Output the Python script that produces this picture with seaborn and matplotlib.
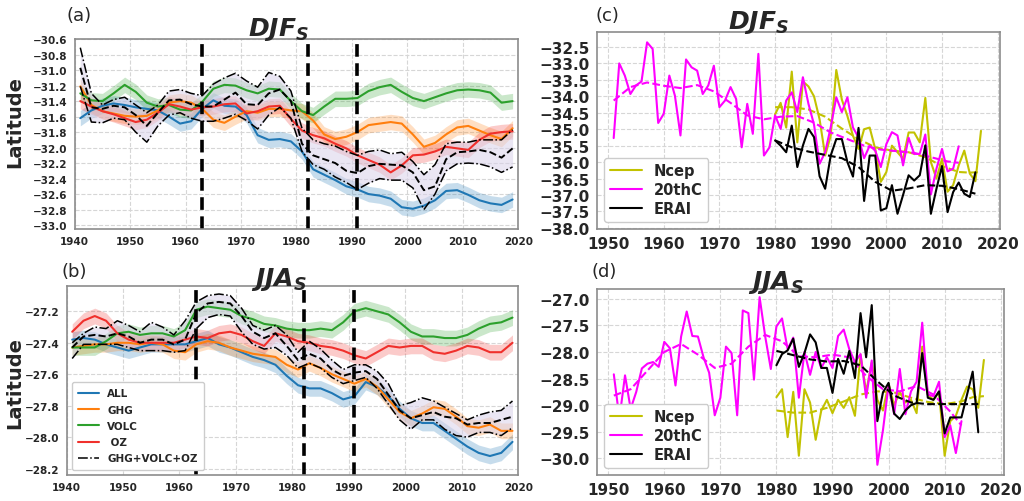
import numpy as np
import matplotlib
matplotlib.use("Agg")
import matplotlib.pyplot as plt
import seaborn as sns

sns.set_style("whitegrid", {"grid.linestyle": "--", "grid.color": "#d6d6d6",
                            "axes.edgecolor": "#8c8c8c"})
plt.rcParams['font.family'] = ['DejaVu Sans']
plt.rcParams['mathtext.fontset'] = 'custom'
plt.rcParams['mathtext.it'] = 'DejaVu Sans:italic:bold'
plt.rcParams['mathtext.rm'] = 'DejaVu Sans:bold'

# ---------------- model experiments (panels a, b) ----------------
years_ab = np.arange(1941, 2020, 2)

# DJF (a)
a_all = [-31.62, -31.52, -31.46, -31.43, -31.45, -31.48, -31.50, -31.52, -31.60, -31.69,
         -31.66, -31.50, -31.39, -31.46, -31.47, -31.58, -31.84, -31.90, -31.89, -31.92,
         -32.05, -32.28, -32.35, -32.42, -32.50, -32.54, -32.60, -32.62, -32.66, -32.77,
         -32.79, -32.75, -32.68, -32.56, -32.55, -32.61, -32.68, -32.72, -32.74, -32.67]
a_ghg = [-31.21, -31.45, -31.53, -31.56, -31.59, -31.60, -31.59, -31.52, -31.42, -31.40,
         -31.42, -31.50, -31.64, -31.68, -31.60, -31.53, -31.55, -31.50, -31.50, -31.52,
         -31.53, -31.65, -31.83, -31.89, -31.86, -31.80, -31.71, -31.69, -31.67, -31.69,
         -31.83, -31.99, -31.94, -31.83, -31.74, -31.72, -31.78, -31.84, -31.89, -31.75]
a_volc = [-31.30, -31.39, -31.40, -31.30, -31.19, -31.28, -31.42, -31.47, -31.45, -31.51,
          -31.52, -31.41, -31.24, -31.19, -31.20, -31.26, -31.30, -31.24, -31.25, -31.40,
          -31.53, -31.58, -31.47, -31.37, -31.37, -31.36, -31.27, -31.22, -31.19, -31.28,
          -31.36, -31.40, -31.35, -31.30, -31.26, -31.25, -31.26, -31.29, -31.42, -31.40]
a_oz = [-31.40, -31.47, -31.53, -31.57, -31.62, -31.67, -31.64, -31.55, -31.44, -31.47,
        -31.51, -31.48, -31.47, -31.44, -31.43, -31.56, -31.53, -31.47, -31.46, -31.63,
        -31.78, -31.84, -31.88, -31.95, -32.01, -32.10, -32.16, -32.22, -32.32, -32.23,
        -32.10, -32.09, -32.05, -31.99, -32.01, -32.03, -31.90, -31.82, -31.80, -31.79]
a_sum = [-30.97, -31.48, -31.50, -31.46, -31.48, -31.58, -31.72, -31.55, -31.39, -31.38,
         -31.44, -31.47, -31.47, -31.38, -31.29, -31.44, -31.45, -31.30, -31.25, -31.40,
         -31.95, -32.10, -32.15, -32.20, -32.30, -32.33, -32.24, -32.21, -32.22, -32.23,
         -32.32, -32.55, -32.50, -32.15, -32.06, -32.05, -32.03, -32.06, -32.13, -32.01]
a_sum_hi = [-30.71, -31.30, -31.45, -31.38, -31.35, -31.45, -31.55, -31.45, -31.27, -31.25,
            -31.30, -31.33, -31.18, -31.10, -31.04, -31.14, -31.22, -31.03, -31.08, -31.27,
            -31.75, -31.90, -31.95, -31.98, -32.05, -32.10, -32.05, -32.03, -32.08, -32.06,
            -32.18, -32.35, -32.22, -31.95, -31.93, -31.93, -31.90, -31.90, -31.90, -31.77]
a_sum_lo = [-31.21, -31.67, -31.68, -31.62, -31.64, -31.80, -31.93, -31.72, -31.58, -31.55,
            -31.62, -31.66, -31.66, -31.62, -31.57, -31.65, -31.76, -31.58, -31.48, -31.62,
            -32.05, -32.22, -32.28, -32.38, -32.45, -32.54, -32.46, -32.40, -32.42, -32.42,
            -32.52, -32.80, -32.60, -32.30, -32.21, -32.20, -32.21, -32.25, -32.32, -32.25]

# JJA (b)
b_all = [-27.38, -27.37, -27.38, -27.41, -27.43, -27.45, -27.43, -27.41, -27.41, -27.41,
         -27.41, -27.39, -27.37, -27.41, -27.43, -27.46, -27.49, -27.51, -27.54, -27.61,
         -27.67, -27.69, -27.69, -27.72, -27.76, -27.74, -27.65, -27.68, -27.74, -27.82,
         -27.88, -27.91, -27.91, -27.96, -28.01, -28.06, -28.10, -28.12, -28.10, -28.03]
b_ghg = [-27.43, -27.42, -27.41, -27.41, -27.40, -27.40, -27.41, -27.40, -27.41, -27.45,
         -27.46, -27.41, -27.39, -27.40, -27.43, -27.45, -27.47, -27.48, -27.49, -27.54,
         -27.57, -27.53, -27.56, -27.60, -27.63, -27.66, -27.63, -27.68, -27.76, -27.84,
         -27.88, -27.85, -27.81, -27.82, -27.87, -27.93, -27.94, -27.92, -27.96, -27.96]
b_volc = [-27.43, -27.43, -27.43, -27.39, -27.34, -27.33, -27.35, -27.34, -27.34, -27.36,
          -27.32, -27.19, -27.17, -27.18, -27.19, -27.23, -27.25, -27.28, -27.29, -27.31,
          -27.32, -27.32, -27.31, -27.32, -27.27, -27.20, -27.18, -27.20, -27.22, -27.27,
          -27.33, -27.36, -27.36, -27.37, -27.37, -27.35, -27.31, -27.28, -27.27, -27.24]
b_oz = [-27.33, -27.26, -27.23, -27.26, -27.34, -27.38, -27.40, -27.40, -27.40, -27.40,
        -27.38, -27.36, -27.37, -27.34, -27.33, -27.35, -27.39, -27.42, -27.34, -27.36,
        -27.39, -27.40, -27.42, -27.43, -27.45, -27.48, -27.50, -27.46, -27.42, -27.43,
        -27.42, -27.42, -27.46, -27.47, -27.45, -27.42, -27.43, -27.46, -27.46, -27.40]
b_sum = [-27.43, -27.36, -27.35, -27.36, -27.34, -27.36, -27.40, -27.38, -27.38, -27.41,
         -27.38, -27.21, -27.15, -27.14, -27.15, -27.23, -27.33, -27.37, -27.34, -27.42,
         -27.51, -27.47, -27.50, -27.57, -27.61, -27.59, -27.58, -27.63, -27.73, -27.83,
         -27.88, -27.86, -27.84, -27.87, -27.88, -27.92, -27.91, -27.91, -27.89, -27.87]
b_sum_hi = [-27.40, -27.34, -27.30, -27.31, -27.26, -27.29, -27.33, -27.27, -27.30, -27.35,
            -27.26, -27.14, -27.10, -27.09, -27.10, -27.18, -27.29, -27.32, -27.29, -27.35,
            -27.46, -27.39, -27.44, -27.51, -27.57, -27.54, -27.54, -27.58, -27.66, -27.80,
            -27.78, -27.75, -27.77, -27.81, -27.85, -27.89, -27.86, -27.84, -27.83, -27.77]
b_sum_lo = [-27.50, -27.41, -27.41, -27.41, -27.41, -27.43, -27.45, -27.45, -27.45, -27.46,
            -27.45, -27.31, -27.24, -27.22, -27.23, -27.33, -27.41, -27.44, -27.43, -27.48,
            -27.56, -27.53, -27.56, -27.62, -27.66, -27.64, -27.62, -27.69, -27.79, -27.89,
            -27.95, -27.89, -27.89, -27.95, -27.99, -28.00, -27.97, -27.97, -27.99, -27.94]

spread_a = 0.10
spread_b = 0.05
eruption_years = [1963, 1982, 1991]

# ---------------- reanalyses (panels c, d) ----------------
years_20c = np.arange(1951, 2014)
years_ncep = np.arange(1980, 2018)
years_erai = np.arange(1980, 2017)

c_20c = [-35.27, -33.00, -33.37, -33.93, -33.67, -33.55, -32.36, -32.56, -34.81, -34.53,
         -33.37, -33.98, -35.19, -32.88, -33.12, -33.22, -33.93, -33.67, -33.07, -34.33,
         -34.13, -33.72, -34.08, -35.55, -34.23, -35.14, -32.71, -35.80, -35.55, -34.58,
         -34.99, -34.13, -33.88, -34.48, -33.42, -34.23, -34.86, -36.05, -35.70, -34.94,
         -34.03, -34.48, -34.03, -34.95, -35.25, -35.88, -35.50, -35.65, -36.15, -35.45,
         -35.09, -35.19, -36.10, -35.26, -35.75, -35.75, -35.16, -36.98, -36.20, -35.60,
         -36.28, -36.20, -35.52]
c_ncep = [-34.55, -34.20, -34.95, -33.25, -35.40, -33.55, -33.70, -34.00, -34.70, -35.80,
          -35.20, -33.20, -34.10, -34.60, -35.20, -35.60, -35.00, -34.95, -35.60, -36.60,
          -36.30, -35.50, -35.70, -35.90, -35.10, -35.10, -35.40, -34.05, -36.00, -36.50,
          -35.90, -36.90, -36.70, -36.10, -35.65, -36.35, -36.58, -35.05]
c_erai = [-35.34, -35.50, -35.70, -34.89, -36.15, -35.50, -34.99, -35.24, -36.43, -36.81,
          -35.80, -35.30, -35.30, -36.00, -36.44, -34.96, -37.18, -35.80, -35.80, -37.47,
          -37.40, -36.70, -37.57, -37.00, -36.40, -36.56, -36.40, -35.49, -37.57, -36.81,
          -36.12, -37.52, -36.91, -36.62, -36.96, -37.06, -36.31]

d_20c = [-28.42, -29.25, -28.44, -29.07, -28.75, -28.31, -28.22, -28.19, -28.28, -27.81,
         -27.93, -28.63, -27.71, -27.24, -27.70, -27.71, -28.10, -28.39, -29.19, -28.86,
         -27.90, -28.02, -29.19, -27.22, -27.27, -28.52, -26.97, -27.71, -28.32, -27.52,
         -27.37, -27.95, -27.73, -28.86, -28.00, -28.43, -28.00, -28.30, -28.10, -28.30,
         -27.70, -27.58, -27.95, -28.19, -28.04, -28.86, -28.16, -30.12, -29.47, -28.62,
         -29.17, -28.32, -29.17, -28.74, -28.56, -27.45, -28.80, -28.83, -28.56, -29.60,
         -29.38, -29.90, -29.30]
d_ncep = [-28.85, -28.70, -29.60, -28.75, -29.95, -28.70, -28.95, -29.65, -29.10, -28.90,
          -29.15, -28.90, -29.05, -28.85, -29.20, -28.05, -28.75, -28.20, -28.90, -29.10,
          -28.60, -29.00, -28.75, -28.95, -28.90, -29.15, -27.90, -28.80, -28.90, -28.75,
          -29.95, -29.30, -29.20, -28.90, -28.65, -28.70, -29.05, -28.15]
d_erai = [-28.25, -28.04, -27.97, -27.75, -28.28, -28.02, -27.67, -27.82, -28.30, -28.30,
          -28.77, -28.13, -28.41, -27.98, -28.49, -27.27, -28.10, -27.12, -29.30, -28.76,
          -28.58, -29.16, -29.26, -29.10, -29.00, -28.96, -28.02, -28.86, -28.90, -28.74,
          -29.53, -29.23, -29.23, -29.23, -28.80, -28.37, -29.51]

# smoothed curves (dashed)
trend_years_20c = [1951, 1954, 1957, 1960, 1963, 1966, 1969, 1972, 1975, 1978, 1981,
                   1984, 1987, 1990, 1993, 1996, 1999, 2002, 2005, 2008, 2011, 2013]
trend_years_ncep = [1980, 1983, 1986, 1989, 1992, 1995, 1998, 2001, 2004, 2007, 2010, 2013, 2015, 2017]
trend_years_erai = [1980, 1983, 1986, 1989, 1992, 1995, 1998, 2001, 2004, 2007, 2010, 2013, 2016]

c_20c_trend = [-34.13, -33.72, -33.58, -33.68, -33.75, -33.66, -33.85, -34.20, -34.58, -34.70, -34.62,
               -34.60, -34.80, -35.10, -35.30, -35.50, -35.62, -35.67, -35.72, -35.85, -35.98, -36.02]
c_ncep_trend = [-34.33, -34.33, -34.40, -34.62, -34.98, -35.30, -35.55, -35.65, -35.70, -35.85,
                -36.12, -36.30, -36.32, -36.30]
c_erai_trend = [-35.34, -35.55, -35.68, -35.78, -35.88, -36.15, -36.60, -36.87, -36.80, -36.70,
                -36.72, -36.82, -36.96]
d_20c_trend = [-28.82, -28.70, -28.35, -28.00, -27.85, -28.05, -28.30, -28.22, -27.90, -27.68, -27.80,
               -28.08, -28.10, -28.05, -28.10, -28.45, -28.70, -28.74, -28.64, -28.80, -29.12, -29.38]
d_ncep_trend = [-29.10, -29.14, -29.14, -29.05, -28.93, -28.80, -28.74, -28.76, -28.86, -28.94,
                -28.98, -28.93, -28.85, -28.83]
d_erai_trend = [-27.98, -28.06, -28.14, -28.18, -28.17, -28.25, -28.55, -28.82, -28.95, -28.98,
                -28.98, -28.98, -28.98]

exp_labels = ['ALL', 'GHG', 'VOLC', ' OZ']
exp_colors = ['#1f77b4', '#ff7f0e', '#2ca02c', '#f0302c']
rean_labels = ['Ncep', '20thC', 'ERAI']
rean_colors = ['#c2c200', '#ff00ff', 'black']


def minus(v):
    return f'{v:.1f}'.replace('-', '\u2212')


def model_panel(ax, series, sum_mid, sum_hi, sum_lo, spread, legend):
    for vals, col, lab in zip(series, exp_colors, exp_labels):
        v = np.array(vals)
        ax.fill_between(years_ab, v - spread, v + spread, color=col, alpha=0.25, lw=0)
        sns.lineplot(x=years_ab, y=v, ax=ax, color=col, lw=1.5, label=lab)
    ax.fill_between(years_ab, sum_lo, sum_hi, color='#d9d2ea', alpha=0.55, lw=0)
    sns.lineplot(x=years_ab, y=sum_mid, ax=ax, color='k', lw=1.4, linestyle='--')
    sns.lineplot(x=years_ab, y=sum_hi, ax=ax, color='k', lw=1.1, linestyle='-.',
                 label='GHG+VOLC+OZ')
    sns.lineplot(x=years_ab, y=sum_lo, ax=ax, color='k', lw=1.1, linestyle='-.')
    for yr in eruption_years:
        ax.axvline(yr, color='k', ls='--', lw=2.6, dashes=(3.5, 1.8))
    ax.set_xlim(1940, 2020)
    ax.set_xticks(range(1940, 2021, 10))
    ax.set_ylabel('Latitude', fontsize=14, fontweight='bold')
    ax.set_xlabel('')
    ax.tick_params(labelsize=7.5, length=3, width=0.8, color='#666666', pad=2)
    if legend:
        ax.legend(loc='lower left', prop={'weight': 'bold', 'size': 7.5}, frameon=True,
                  edgecolor='#cccccc', framealpha=1, handlelength=2.0, labelspacing=0.6,
                  borderpad=0.6, handletextpad=0.8)
    else:
        ax.get_legend().remove()


def rean_panel(ax, ncep, c20, erai, ncep_t, c20_t, erai_t):
    handles = []
    for yrs, vals, tyrs, tv, col in [(years_ncep, ncep, trend_years_ncep, ncep_t, rean_colors[0]),
                                     (years_20c, c20, trend_years_20c, c20_t, rean_colors[1]),
                                     (years_erai, erai, trend_years_erai, erai_t, rean_colors[2])]:
        sns.lineplot(x=yrs, y=vals, ax=ax, color=col, lw=1.5)
        handles.append(ax.lines[-1])
        sns.lineplot(x=tyrs, y=tv, ax=ax, color=col, lw=1.5, linestyle='--')
    ax.set_xlim(1948, 2020.5)
    ax.set_xticks(range(1950, 2021, 10))
    ax.set_xlabel('')
    ax.set_ylabel('')
    ax.tick_params(labelsize=11, length=3, width=0.8, color='#666666', pad=2)
    ax.legend(handles, rean_labels, loc='lower left', prop={'weight': 'bold', 'size': 10.5},
              frameon=True, edgecolor='#cccccc', framealpha=1, handlelength=2.2,
              labelspacing=0.25, borderpad=0.4)


fig = plt.figure(figsize=(10.24, 5.02), dpi=100)
ax_a = fig.add_axes([0.073, 0.542, 0.433, 0.378])
ax_b = fig.add_axes([0.065, 0.052, 0.441, 0.376])
ax_c = fig.add_axes([0.583, 0.542, 0.394, 0.392])
ax_d = fig.add_axes([0.583, 0.052, 0.397, 0.370])

model_panel(ax_a, [a_all, a_ghg, a_volc, a_oz], a_sum, a_sum_hi, a_sum_lo, spread_a, False)
ax_a.set_ylim(-33.05, -30.6)
ticks_a = np.round(np.arange(-33.0, -30.55, 0.2), 1)
ax_a.set_yticks(ticks_a)
ax_a.set_yticklabels([minus(v) for v in ticks_a])
ax_a.yaxis.set_label_coords(-0.113, 0.57)

model_panel(ax_b, [b_all, b_ghg, b_volc, b_oz], b_sum, b_sum_hi, b_sum_lo, spread_b, True)
ax_b.set_ylim(-28.24, -27.04)
ticks_b = np.round(np.arange(-28.2, -27.15, 0.2), 1)
ax_b.set_yticks(ticks_b)
ax_b.set_yticklabels([minus(v) for v in ticks_b])
ax_b.yaxis.set_label_coords(-0.093, 0.49)

rean_panel(ax_c, c_ncep, c_20c, c_erai, c_ncep_trend, c_20c_trend, c_erai_trend)
ax_c.set_ylim(-38.03, -32.05)
ticks_c = np.arange(-38.0, -32.4, 0.5)
ax_c.set_yticks(ticks_c)
ax_c.set_yticklabels([minus(v) for v in ticks_c])

rean_panel(ax_d, d_ncep, d_20c, d_erai, d_ncep_trend, d_20c_trend, d_erai_trend)
ax_d.set_ylim(-30.31, -26.82)
ticks_d = np.arange(-30.0, -26.9, 0.5)
ax_d.set_yticks(ticks_d)
ax_d.set_yticklabels([minus(v) for v in ticks_d])

for ax in [ax_a, ax_b, ax_c, ax_d]:
    for t in ax.get_xticklabels() + ax.get_yticklabels():
        t.set_fontweight('bold')
    for s in ax.spines.values():
        s.set_linewidth(1.2)

ax_a.set_title(r'$DJF_S$', fontsize=18, x=0.46, pad=3)
ax_b.set_title(r'$JJA_S$', fontsize=18, x=0.47, pad=1)
ax_c.set_title(r'$DJF_S$', fontsize=18, x=0.40, pad=3)
ax_d.set_title(r'$JJA_S$', fontsize=18, x=0.44, pad=1)

fig.text(0.065, 0.958, '(a)', fontsize=13)
fig.text(0.060, 0.448, '(b)', fontsize=13)
fig.text(0.582, 0.958, '(c)', fontsize=13)
fig.text(0.578, 0.448, '(d)', fontsize=13)

fig.savefig('out.png', dpi=100)
